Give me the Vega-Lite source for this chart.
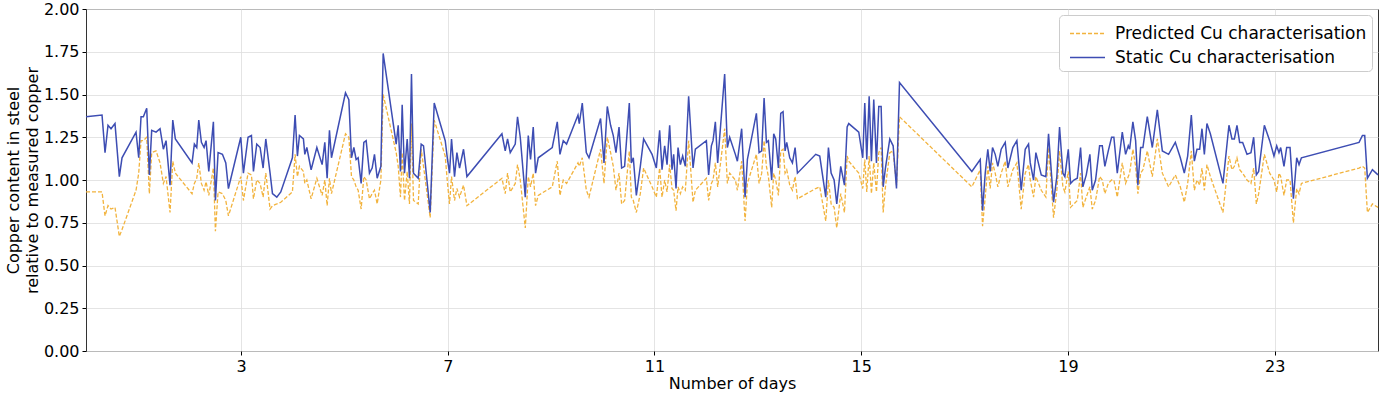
{
  "$schema": "https://vega.github.io/schema/vega-lite/v6.json",
  "width": 1292,
  "height": 342,
  "autosize": {"type": "none"},
  "padding": {"left": 86, "top": 9, "right": 9, "bottom": 52},
  "background": "white",
  "config": {
    "font": "DejaVu Sans",
    "view": {"stroke": "#333333", "strokeWidth": 1},
    "axis": {
      "labelFontSize": 16, "titleFontSize": 16, "titleFontWeight": "normal",
      "labelColor": "#000000", "titleColor": "#000000",
      "tickColor": "#000000", "tickSize": 4, "labelPadding": 3,
      "domain": false, "gridColor": "#dddddd", "gridWidth": 0.8
    }
  },
  "data": {"values": [
    {"d":0.000,"s":1.37,"p":0.93},{"d":0.310,"s":1.38,"p":0.93},{"d":0.368,"s":1.16,"p":0.79},{"d":0.426,"s":1.32,"p":0.85},{"d":0.484,"s":1.30,"p":0.83},{"d":0.561,"s":1.33,"p":0.84},{"d":0.645,"s":1.02,"p":0.67},{"d":0.697,"s":1.13,"p":0.71},{"d":0.968,"s":1.28,"p":0.94},{"d":1.020,"s":1.13,"p":1.04},{"d":1.065,"s":1.37,"p":1.23},{"d":1.110,"s":1.37,"p":1.23},{"d":1.175,"s":1.42,"p":1.25},{"d":1.226,"s":1.03,"p":0.92},{"d":1.271,"s":1.29,"p":1.16},{"d":1.355,"s":1.28,"p":1.17},{"d":1.433,"s":1.30,"p":1.10},{"d":1.497,"s":1.18,"p":0.98},{"d":1.549,"s":1.23,"p":1.02},{"d":1.626,"s":0.97,"p":0.81},{"d":1.679,"s":1.35,"p":1.11},{"d":1.729,"s":1.24,"p":1.04},{"d":2.052,"s":1.10,"p":0.92},{"d":2.097,"s":1.21,"p":0.98},
    {"d":2.143,"s":1.19,"p":1.01},{"d":2.182,"s":1.35,"p":1.10},{"d":2.233,"s":1.22,"p":0.98},{"d":2.285,"s":1.19,"p":0.94},{"d":2.323,"s":1.23,"p":0.99},{"d":2.376,"s":1.05,"p":0.91},{"d":2.465,"s":1.34,"p":1.07},{"d":2.504,"s":0.88,"p":0.70},{"d":2.556,"s":1.16,"p":0.93},{"d":2.640,"s":1.15,"p":0.92},{"d":2.705,"s":1.10,"p":0.88},{"d":2.756,"s":0.95,"p":0.79},{"d":2.995,"s":1.25,"p":1.02},{"d":3.046,"s":1.04,"p":0.88},{"d":3.136,"s":1.25,"p":1.04},{"d":3.201,"s":1.26,"p":1.03},{"d":3.240,"s":1.05,"p":0.89},{"d":3.304,"s":1.21,"p":1.00},{"d":3.369,"s":1.19,"p":0.98},{"d":3.427,"s":1.07,"p":0.90},{"d":3.479,"s":1.24,"p":1.04},{"d":3.562,"s":1.04,"p":0.83},{"d":3.608,"s":0.92,"p":0.85},{"d":3.692,"s":0.90,"p":0.86},{"d":3.769,"s":0.93,"p":0.87},{"d":3.994,"s":1.13,"p":0.93},{"d":4.046,"s":1.38,"p":1.15},{"d":4.091,"s":1.14,"p":1.02},{"d":4.130,"s":1.26,"p":1.08},{"d":4.207,"s":1.24,"p":1.05},
    {"d":4.234,"s":1.15,"p":0.98},{"d":4.273,"s":1.19,"p":1.00},{"d":4.356,"s":1.06,"p":0.89},{"d":4.467,"s":1.19,"p":1.01},{"d":4.569,"s":1.09,"p":0.91},{"d":4.621,"s":1.22,"p":1.00},{"d":4.666,"s":1.01,"p":0.85},{"d":4.711,"s":1.29,"p":1.01},{"d":4.750,"s":1.13,"p":0.92},{"d":5.021,"s":1.51,"p":1.27},{"d":5.086,"s":1.47,"p":1.25},{"d":5.137,"s":1.13,"p":1.02},{"d":5.183,"s":1.19,"p":1.00},{"d":5.227,"s":1.12,"p":0.96},{"d":5.266,"s":1.13,"p":0.94},{"d":5.324,"s":0.98,"p":0.83},{"d":5.376,"s":1.22,"p":1.02},{"d":5.421,"s":1.23,"p":1.00},{"d":5.485,"s":1.04,"p":0.89},{"d":5.537,"s":1.07,"p":0.92},{"d":5.582,"s":1.15,"p":0.94},{"d":5.634,"s":1.01,"p":0.86},{"d":5.706,"s":1.08,"p":1.00},{"d":5.750,"s":1.74,"p":1.50},{"d":6.002,"s":1.21,"p":1.16},{"d":6.041,"s":1.32,"p":1.08},{"d":6.085,"s":1.05,"p":0.90},{"d":6.118,"s":1.44,"p":1.16},{"d":6.163,"s":1.04,"p":0.88},{"d":6.215,"s":1.24,"p":1.05},{"d":6.259,"s":1.01,"p":0.86},{"d":6.298,"s":1.62,"p":1.33},
    {"d":6.337,"s":1.04,"p":0.88},{"d":6.428,"s":1.01,"p":0.86},{"d":6.486,"s":1.21,"p":1.18},{"d":6.531,"s":1.20,"p":1.08},{"d":6.660,"s":0.81,"p":0.78},{"d":6.738,"s":1.45,"p":1.35},{"d":6.951,"s":1.23,"p":1.14},{"d":6.995,"s":1.12,"p":0.98},{"d":7.034,"s":1.04,"p":0.86},{"d":7.073,"s":1.24,"p":1.02},{"d":7.131,"s":1.02,"p":0.88},{"d":7.177,"s":1.16,"p":0.95},{"d":7.228,"s":1.07,"p":0.90},{"d":7.305,"s":1.18,"p":0.97},{"d":7.371,"s":1.02,"p":0.85},{"d":8.048,"s":1.27,"p":1.01},{"d":8.112,"s":1.17,"p":0.92},{"d":8.157,"s":1.24,"p":1.04},{"d":8.209,"s":1.16,"p":0.93},{"d":8.306,"s":1.21,"p":0.98},{"d":8.350,"s":1.37,"p":1.09},{"d":8.403,"s":1.25,"p":1.00},
    {"d":8.500,"s":0.90,"p":0.72},{"d":8.558,"s":1.26,"p":1.02},{"d":8.602,"s":1.12,"p":0.96},{"d":8.654,"s":1.31,"p":1.04},{"d":8.699,"s":1.04,"p":0.85},{"d":8.751,"s":1.13,"p":0.91},{"d":9.022,"s":1.19,"p":0.96},{"d":9.119,"s":1.34,"p":1.11},{"d":9.171,"s":1.15,"p":0.91},{"d":9.235,"s":1.23,"p":1.00},{"d":9.299,"s":1.21,"p":0.98},{"d":9.520,"s":1.38,"p":1.10},{"d":9.545,"s":1.33,"p":1.08},{"d":9.603,"s":1.45,"p":1.13},{"d":9.681,"s":1.16,"p":0.94},{"d":9.733,"s":1.13,"p":0.90},{"d":9.957,"s":1.36,"p":1.18},{"d":10.023,"s":1.10,"p":0.98},{"d":10.087,"s":1.43,"p":1.25},{"d":10.151,"s":1.32,"p":1.16},{"d":10.203,"s":1.26,"p":1.08},{"d":10.255,"s":1.16,"p":0.94},{"d":10.314,"s":1.31,"p":1.04},{"d":10.364,"s":1.07,"p":0.86},{"d":10.422,"s":1.08,"p":0.88},
    {"d":10.513,"s":1.45,"p":1.17},{"d":10.552,"s":1.10,"p":0.90},{"d":10.590,"s":1.13,"p":0.88},{"d":10.649,"s":0.91,"p":0.81},{"d":10.726,"s":1.08,"p":0.92},{"d":10.790,"s":1.24,"p":1.07},{"d":10.953,"s":1.15,"p":0.96},{"d":11.036,"s":1.07,"p":0.90},{"d":11.100,"s":1.29,"p":1.07},{"d":11.146,"s":1.06,"p":0.90},{"d":11.197,"s":1.20,"p":1.00},{"d":11.243,"s":1.09,"p":0.93},{"d":11.294,"s":1.32,"p":1.09},{"d":11.339,"s":1.06,"p":0.95},{"d":11.371,"s":1.15,"p":0.94},{"d":11.417,"s":0.95,"p":0.82},{"d":11.456,"s":1.19,"p":0.96},{"d":11.501,"s":1.09,"p":0.92},{"d":11.545,"s":1.14,"p":0.96},{"d":11.597,"s":1.08,"p":0.94},{"d":11.661,"s":1.49,"p":1.23},{"d":11.746,"s":1.07,"p":0.87},{"d":11.791,"s":1.18,"p":0.94},{"d":12.004,"s":1.23,"p":1.01},{"d":12.048,"s":1.03,"p":0.88},{"d":12.101,"s":1.20,"p":0.98},{"d":12.133,"s":1.23,"p":1.00},{"d":12.178,"s":1.34,"p":1.10},{"d":12.223,"s":1.10,"p":0.96},{"d":12.358,"s":1.62,"p":1.30},{"d":12.410,"s":1.19,"p":0.98},{"d":12.455,"s":1.25,"p":1.04},{"d":12.565,"s":1.15,"p":1.00},
    {"d":12.604,"s":1.11,"p":0.94},{"d":12.687,"s":1.30,"p":1.11},{"d":12.753,"s":0.90,"p":0.76},{"d":12.798,"s":1.12,"p":0.98},{"d":12.972,"s":1.39,"p":1.15},{"d":13.024,"s":1.16,"p":0.98},{"d":13.075,"s":1.17,"p":1.04},{"d":13.121,"s":1.48,"p":1.23},{"d":13.166,"s":1.22,"p":1.08},{"d":13.204,"s":1.23,"p":1.02},{"d":13.268,"s":1.00,"p":0.84},{"d":13.307,"s":1.27,"p":1.04},{"d":13.346,"s":1.24,"p":1.00},{"d":13.398,"s":1.07,"p":0.91},{"d":13.443,"s":1.39,"p":1.17},{"d":13.488,"s":1.40,"p":1.18},{"d":13.527,"s":1.17,"p":1.04},{"d":13.559,"s":1.22,"p":1.06},{"d":13.617,"s":1.13,"p":0.97},{"d":13.669,"s":1.10,"p":0.94},{"d":13.721,"s":1.19,"p":1.02},{"d":13.766,"s":1.04,"p":0.89},{"d":14.120,"s":1.15,"p":0.95},{"d":14.198,"s":1.14,"p":0.96},{"d":14.314,"s":0.90,"p":0.76},{"d":14.366,"s":1.19,"p":1.00},{"d":14.418,"s":1.04,"p":0.86},{"d":14.476,"s":1.00,"p":0.84},{"d":14.527,"s":0.86,"p":0.72},{"d":14.604,"s":1.08,"p":0.92},
    {"d":14.676,"s":0.97,"p":0.81},{"d":14.728,"s":1.31,"p":1.14},{"d":14.759,"s":1.33,"p":1.11},{"d":14.953,"s":1.28,"p":1.04},{"d":15.030,"s":1.13,"p":0.95},{"d":15.069,"s":1.45,"p":1.12},{"d":15.108,"s":1.12,"p":0.93},{"d":15.154,"s":1.49,"p":1.14},{"d":15.198,"s":1.11,"p":0.92},{"d":15.243,"s":1.47,"p":1.10},{"d":15.295,"s":1.10,"p":0.93},{"d":15.340,"s":1.43,"p":1.16},{"d":15.386,"s":1.43,"p":1.19},{"d":15.425,"s":0.96,"p":0.81},{"d":15.469,"s":1.07,"p":0.96},{"d":15.553,"s":1.24,"p":1.16},{"d":15.618,"s":1.20,"p":1.17},{"d":15.683,"s":0.95,"p":0.97},{"d":15.741,"s":1.57,"p":1.37},
    {"d":17.141,"s":1.05,"p":0.96},{"d":17.303,"s":1.12,"p":1.06},{"d":17.348,"s":0.82,"p":0.73},{"d":17.400,"s":1.04,"p":0.90},{"d":17.450,"s":1.18,"p":1.08},{"d":17.496,"s":1.05,"p":0.95},{"d":17.541,"s":1.19,"p":1.10},{"d":17.593,"s":1.15,"p":1.04},{"d":17.644,"s":1.08,"p":0.96},{"d":17.709,"s":1.18,"p":1.04},{"d":17.787,"s":1.22,"p":1.11},{"d":17.838,"s":1.07,"p":0.96},{"d":17.934,"s":1.19,"p":1.06},{"d":18.012,"s":1.23,"p":1.10},{"d":18.096,"s":0.94,"p":0.83},{"d":18.174,"s":1.18,"p":1.04},{"d":18.238,"s":1.21,"p":1.09},{"d":18.271,"s":1.10,"p":1.00},{"d":18.335,"s":1.00,"p":0.90},{"d":18.380,"s":1.16,"p":1.02},{"d":18.484,"s":1.03,"p":0.94},{"d":18.573,"s":1.02,"p":0.90},{"d":18.625,"s":1.27,"p":1.19},{"d":18.722,"s":0.87,"p":0.78},{"d":18.786,"s":1.02,"p":0.94},
    {"d":18.838,"s":1.31,"p":1.17},{"d":18.903,"s":1.04,"p":0.96},{"d":18.941,"s":1.02,"p":0.93},{"d":19.007,"s":1.18,"p":1.05},{"d":19.051,"s":0.98,"p":0.84},{"d":19.115,"s":1.00,"p":0.86},{"d":19.181,"s":1.01,"p":0.88},{"d":19.245,"s":1.19,"p":1.04},{"d":19.289,"s":0.96,"p":0.84},{"d":19.355,"s":1.03,"p":0.90},{"d":19.425,"s":1.15,"p":0.96},{"d":19.471,"s":0.94,"p":0.83},{"d":19.535,"s":1.00,"p":0.88},{"d":19.613,"s":1.20,"p":1.02},{"d":19.665,"s":1.20,"p":1.00},{"d":19.715,"s":1.08,"p":0.92},{"d":19.781,"s":1.17,"p":0.98},{"d":19.845,"s":1.25,"p":1.00},{"d":19.889,"s":1.25,"p":1.00},{"d":19.955,"s":1.04,"p":0.90},{"d":20.052,"s":1.28,"p":1.10},{"d":20.116,"s":1.15,"p":0.98},{"d":20.168,"s":1.20,"p":1.02},{"d":20.194,"s":1.18,"p":1.04},{"d":20.257,"s":1.34,"p":1.18},{"d":20.310,"s":1.23,"p":1.08},{"d":20.354,"s":0.97,"p":0.92},{"d":20.407,"s":1.19,"p":1.04},{"d":20.451,"s":1.19,"p":1.06},{"d":20.536,"s":1.37,"p":1.17},{"d":20.633,"s":1.19,"p":1.02},{"d":20.730,"s":1.41,"p":1.24},{"d":20.827,"s":1.17,"p":1.04},
    {"d":20.948,"s":1.15,"p":0.96},{"d":21.078,"s":1.22,"p":1.03},{"d":21.175,"s":1.13,"p":0.96},{"d":21.252,"s":1.04,"p":0.87},{"d":21.317,"s":1.14,"p":0.98},{"d":21.388,"s":1.38,"p":1.17},{"d":21.446,"s":1.11,"p":0.94},{"d":21.497,"s":1.18,"p":1.00},{"d":21.549,"s":1.18,"p":0.97},{"d":21.594,"s":1.30,"p":1.07},{"d":21.640,"s":1.15,"p":0.94},{"d":21.690,"s":1.33,"p":1.09},{"d":21.756,"s":1.27,"p":1.02},{"d":22.000,"s":0.98,"p":0.81},{"d":22.116,"s":1.32,"p":1.14},{"d":22.174,"s":1.24,"p":1.06},{"d":22.221,"s":1.24,"p":1.08},{"d":22.271,"s":1.32,"p":1.13},{"d":22.323,"s":1.22,"p":1.06},{"d":22.381,"s":1.22,"p":1.04},{"d":22.465,"s":1.15,"p":1.00},{"d":22.542,"s":1.16,"p":0.98},{"d":22.594,"s":1.25,"p":1.07},{"d":22.646,"s":1.03,"p":0.86},{"d":22.691,"s":1.05,"p":0.92},{"d":22.801,"s":1.32,"p":1.15},{"d":22.904,"s":1.23,"p":1.04},
    {"d":22.987,"s":1.14,"p":1.00},{"d":23.040,"s":1.20,"p":0.93},{"d":23.084,"s":1.16,"p":1.04},{"d":23.117,"s":1.19,"p":1.02},{"d":23.181,"s":1.08,"p":0.91},{"d":23.233,"s":1.19,"p":1.00},{"d":23.298,"s":1.19,"p":1.00},{"d":23.363,"s":0.89,"p":0.75},{"d":23.427,"s":1.13,"p":0.95},{"d":23.472,"s":1.09,"p":0.92},{"d":23.518,"s":1.13,"p":0.98},{"d":24.633,"s":1.22,"p":1.07},{"d":24.699,"s":1.26,"p":1.08},{"d":24.743,"s":1.26,"p":1.07},{"d":24.795,"s":1.01,"p":0.81},{"d":24.892,"s":1.06,"p":0.86},{"d":25.000,"s":1.03,"p":0.84}
  ]},
  "encoding": {
    "x": {
      "field": "d", "type": "quantitative",
      "scale": {"domain": [0, 25], "nice": false, "zero": false},
      "axis": {"values": [3, 7, 11, 15, 19, 23], "title": "Number of days", "titlePadding": 1, "grid": true}
    },
    "color": {
      "datum": "Static Cu characterisation",
      "scale": {"domain": ["Predicted Cu characterisation", "Static Cu characterisation"], "range": ["#f2b33d", "#3d4db3"]},
      "legend": {
        "title": null, "orient": "top-right", "offset": 6,
        "symbolType": "M-0.6,0H2.2", "symbolSize": 625, "symbolStrokeWidth": 1.5,
        "labelFontSize": 17, "labelColor": "#000000", "labelOffset": 24, "labelLimit": 0,
        "fillColor": "white", "strokeColor": "#cccccc", "cornerRadius": 4, "padding": 5, "rowPadding": 2,
        "encode": {"symbols": {"update": {"fill": {"value": "transparent"}, "strokeDash": {"signal": "datum.value === 'Predicted Cu characterisation' ? [4, 2] : [1, 0]"}}}}
      }
    }
  },
  "layer": [
    {
      "mark": {"type": "line", "strokeWidth": 1.3, "strokeDash": [4, 2]},
      "encoding": {
        "y": {"field": "p", "type": "quantitative", "scale": {"domain": [0, 2], "nice": false},
          "axis": {"values": [0, 0.25, 0.5, 0.75, 1, 1.25, 1.5, 1.75, 2], "format": ".2f", "title": ["Copper content in steel", "relative to measured copper"], "titlePadding": 3, "titleLineHeight": 19, "grid": true}},
        "color": {"datum": "Predicted Cu characterisation"}
      }
    },
    {
      "mark": {"type": "line", "strokeWidth": 1.5},
      "encoding": {
        "y": {"field": "s", "type": "quantitative", "scale": {"domain": [0, 2], "nice": false},
          "axis": {"values": [0, 0.25, 0.5, 0.75, 1, 1.25, 1.5, 1.75, 2], "format": ".2f", "title": ["Copper content in steel", "relative to measured copper"], "titlePadding": 3, "titleLineHeight": 19, "grid": true}},
        "color": {"datum": "Static Cu characterisation"}
      }
    }
  ]
}
